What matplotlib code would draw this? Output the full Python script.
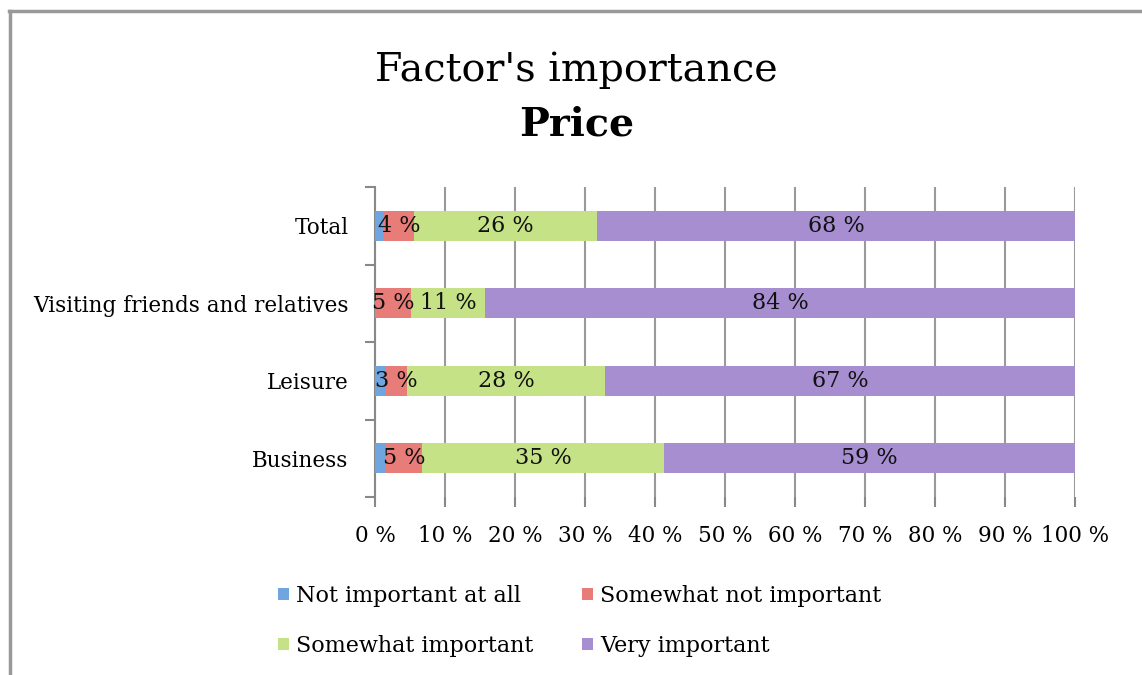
import matplotlib.pyplot as plt
import numpy as np

categories = ["Business", "Leisure", "Visiting friends and relatives", "Total"]
series_names = ["Not important at all", "Somewhat not important",
                "Somewhat important", "Very important"]
not_important = [1.6, 1.5, 0.0, 1.2]
somewhat_not = [5.1, 3.0, 5.2, 4.4]
somewhat_imp = [34.6, 28.4, 10.5, 26.1]
very_imp = [58.7, 67.1, 84.3, 68.3]
label_texts = [
    [None, "5 %", "35 %", "59 %"],
    [None, "3 %", "28 %", "67 %"],
    [None, "5 %", "11 %", "84 %"],
    [None, "4 %", "26 %", "68 %"],
]
x_ticks = list(range(0, 101, 10))
colors = ["#6FA6DF", "#E77C78", "#C5E287", "#A68ED1"]

plt.rcParams["font.family"] = ["DejaVu Serif"]

fig = plt.figure(figsize=(11.42, 6.75), dpi=100)
ax = fig.add_axes([375 / 1142, 1 - 497 / 675, 700 / 1142, 310 / 675])

data = np.array([not_important, somewhat_not, somewhat_imp, very_imp])
totals = data.sum(axis=0)
data = data / totals * 100
y = np.arange(len(categories))
left = np.zeros(len(categories))
handles = []
for i, name in enumerate(series_names):
    bars = ax.barh(y, data[i], left=left, height=0.39, color=colors[i],
                   label=name, zorder=3)
    handles.append(bars)
    for j, bar in enumerate(bars):
        txt = label_texts[j][i]
        if txt:
            ax.text(bar.get_x() + bar.get_width() / 2, y[j], txt,
                    ha="center", va="center", fontsize=16, color="#111111",
                    zorder=4)
    left += data[i]

ax.set_xlim(0, 100)
ax.set_ylim(-0.5, len(categories) - 0.5)
ax.set_xticks(x_ticks)
ax.set_xticklabels([f"{t} %" for t in x_ticks], fontsize=15.5)
ax.set_yticks(y)
ax.set_yticklabels(categories, fontsize=15.5)
ax.set_yticks(np.arange(-0.5, len(categories), 1), minor=True)
ax.tick_params(axis="y", which="major", length=0, pad=19)
ax.tick_params(axis="y", which="minor", length=7, color="#888888", width=1.5)
ax.tick_params(axis="x", length=7, color="#888888", width=1.5, pad=13)
ax.grid(axis="x", color="#999999", linewidth=1.5, zorder=0)
for side in ["top", "right"]:
    ax.spines[side].set_visible(False)
ax.spines["left"].set_color("#888888")
ax.spines["left"].set_linewidth(1.5)
ax.spines["bottom"].set_visible(False)

fig.text(0.505, 1 - 70 / 675, "Factor's importance", ha="center",
         va="center", fontsize=28.5)
fig.text(0.505, 1 - 125 / 675, "Price", ha="center", va="center",
         fontsize=28.5, fontweight="bold")

order = [0, 2, 1, 3]
fig.legend([handles[k] for k in order], [series_names[k] for k in order],
           ncol=2, loc="upper left", bbox_to_anchor=(258 / 1142, 1 - 565 / 675),
           frameon=False, fontsize=16, handlelength=0.5, handleheight=0.5,
           handletextpad=0.3, columnspacing=2.2, labelspacing=1.25)

# chart frame: left and top edges
fig.add_artist(plt.Line2D([9 / 1142, 1], [1 - 11 / 675, 1 - 11 / 675],
                          transform=fig.transFigure, color="#999999",
                          linewidth=2.5))
fig.add_artist(plt.Line2D([10 / 1142, 10 / 1142], [0, 1 - 11 / 675],
                          transform=fig.transFigure, color="#999999",
                          linewidth=2.5))

fig.savefig("out.png", dpi=100)
